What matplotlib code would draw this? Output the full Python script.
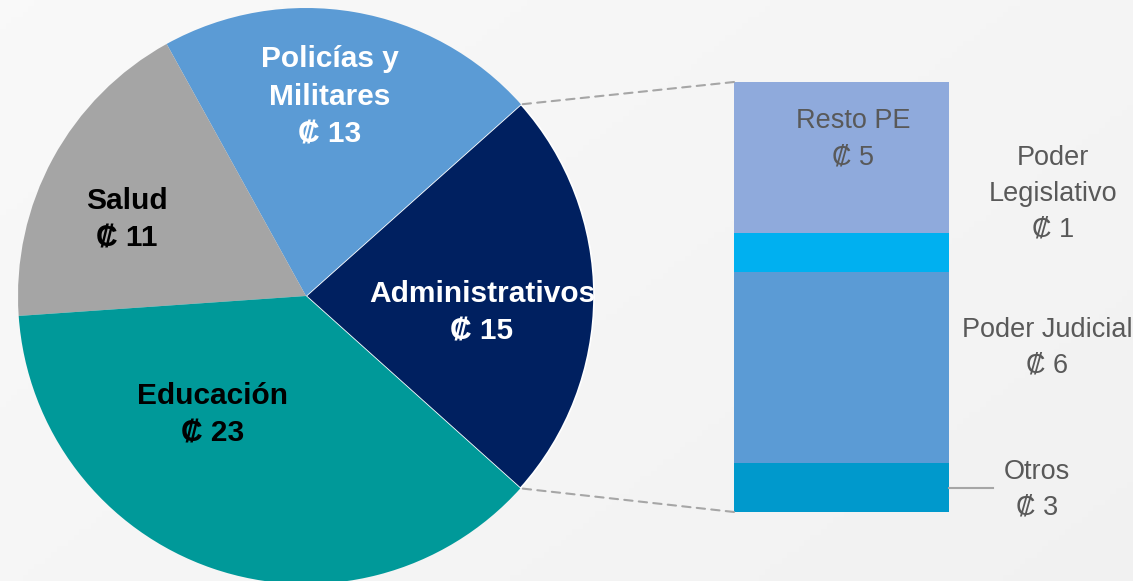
import numpy as np
import matplotlib.pyplot as plt
from matplotlib.patches import ConnectionPatch

plt.rcParams['font.family'] = ['Liberation Sans', 'DejaVu Sans']

pie_names = ['Administrativos', 'Policías y\nMilitares', 'Salud', 'Educación']
pie_sizes = [14.4, 13.3, 11.2, 23.1]
pie_labels = [15, 13, 11, 23]
pie_colors = ['#002060', '#5b9bd5', '#a5a5a5', '#009999']
pie_text_colors = ['white', 'white', 'black', 'black']

# Bar: breakdown of Administrativos, from bottom to top
bar_names = ['Otros', 'Poder Judicial', 'Poder\nLegislativo', 'Resto PE']
bar_sizes = [1.72, 6.71, 1.37, 5.30]
bar_labels = [3, 6, 1, 5]
bar_colors = ['#0099cc', '#5b9bd5', '#00b0f0', '#8faadc']

W, H = 1133, 581
fig = plt.figure(figsize=(W / 100, H / 100), dpi=100)


def px(x, y):
    # pixel position (from top-left) to figure fraction
    return x / W, 1 - y / H


# soft grey background
bg = fig.add_axes([0, 0, 1, 1], zorder=-10)
gx, gy = np.meshgrid(np.linspace(0, 1, 200), np.linspace(0, 1, 100))
grad = 0.977 - 0.03 * (0.6 * gx + 0.4 * gy)
bg.imshow(np.dstack([grad] * 3), aspect='auto', extent=[0, 1, 1, 0])
bg.axis('off')

# pie axes: centre (306, 296), radius 288 px
cx, cy, r = 306, 296, 288
ax = fig.add_axes([(cx - r) / W, 1 - (cy + r) / H, 2 * r / W, 2 * r / H])
start = -41.9
wedges, _ = ax.pie(pie_sizes, colors=pie_colors, startangle=start,
                   counterclock=True, radius=1)
wedges[0].set_edgecolor('white')
wedges[0].set_linewidth(1.2)
ax.set_xlim(-1, 1)
ax.set_ylim(-1, 1)
ax.axis('off')

pie_text_pos = [(482, 313), (330, 97), (127, 220), (213, 415)]
for name, val, col, (x, y) in zip(pie_names, pie_labels, pie_text_colors, pie_text_pos):
    fig.text(*px(x, y), f'{name}\n₡ {val}', ha='center', va='center',
             fontsize=21.5, fontweight='bold', color=col, linespacing=1.45)

# bar axes
bx0, bx1, by0, by1 = 734, 949, 82, 512
bax = fig.add_axes([bx0 / W, 1 - by1 / H, (bx1 - bx0) / W, (by1 - by0) / H])
bottom = 0
for size, col in zip(bar_sizes, bar_colors):
    bax.bar(0, size, bottom=bottom, width=1, color=col)
    bottom += size
total = sum(bar_sizes)
bax.set_xlim(-0.5, 0.5)
bax.set_ylim(0, total)
bax.axis('off')

# leader line for Otros
bax.plot([0.5, 0.5 + 44 / (bx1 - bx0)], [bar_sizes[0] / 2] * 2,
         color='#a6a6a6', lw=1.5, clip_on=False)

bar_text_pos = [(1037, 490), (1047, 348), (1053, 194), (853, 139)]
for name, val, (x, y) in zip(bar_names, bar_labels, bar_text_pos):
    fig.text(*px(x, y), f'{name}\n₡ {val}', ha='center', va='center',
             fontsize=19.5, color='#595959', linespacing=1.5)

# dashed connectors from the Administrativos wedge to the bar
theta1 = np.radians(start)
theta2 = np.radians(start + 360 * pie_sizes[0] / sum(pie_sizes))
for th, yb in [(theta2, total), (theta1, 0)]:
    con = ConnectionPatch(xyA=(-0.5, yb), coordsA=bax.transData,
                          xyB=(np.cos(th), np.sin(th)), coordsB=ax.transData,
                          color='#a6a6a6', lw=1.5, linestyle=(0, (4, 3)))
    fig.add_artist(con)

fig.savefig('out.png', dpi=100)
